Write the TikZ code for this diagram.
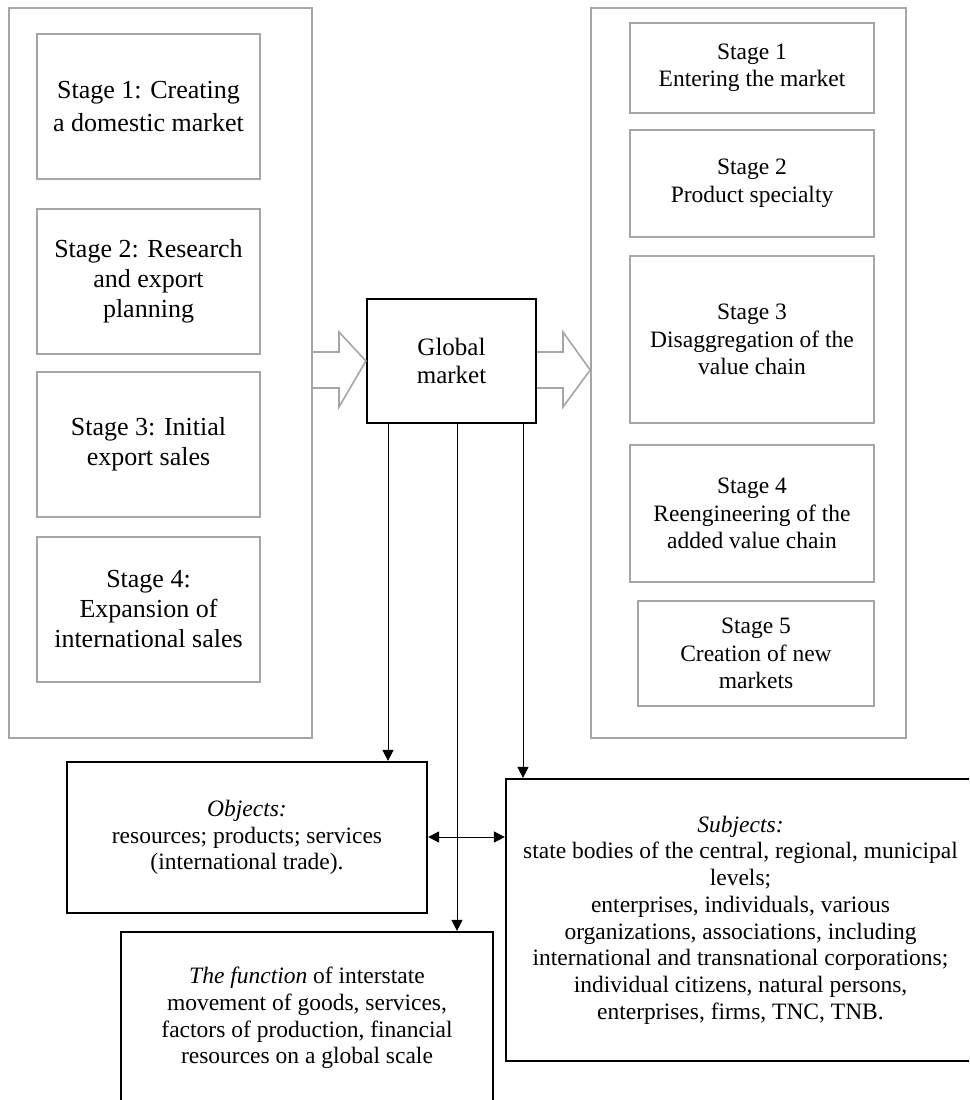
\documentclass[tikz,border=0pt]{standalone}
\usepackage{fontspec}
\setmainfont{Liberation Serif}
\usetikzlibrary{arrows.meta}
\definecolor{boxgray}{RGB}{166,166,166}
\tikzset{
  outerbox/.style={draw=boxgray, line width=1.6pt, inner sep=0pt},
  lstage/.style={draw=boxgray, line width=1.6pt, align=center, inner sep=0pt,
     minimum width=223pt, minimum height=145pt, font=\fontsize{26}{30}\selectfont},
  rstage/.style={draw=boxgray, line width=1.6pt, align=center, inner sep=0pt,
     minimum width=244pt, font=\fontsize{23.5}{27.5}\selectfont},
  blackbox/.style={draw=black, line width=2.2pt, align=center, inner sep=0pt,
     font=\fontsize{23.5}{26.7}\selectfont},
  hollow/.style={draw=boxgray, line width=1.6pt, line join=miter},
  conn/.style={line width=0.9pt, -{Triangle[length=11pt,width=11pt]}},
  dconn/.style={line width=0.9pt, {Triangle[length=11pt,width=11pt]}-{Triangle[length=11pt,width=11pt]}}
}
\begin{document}
\begin{tikzpicture}[x=1pt,y=-1pt]
\useasboundingbox (0,0) rectangle (969,1100);
\clip (0,0) rectangle (969,1100);
\fill[white] (0,0) rectangle (969,1100);

% left column
\node[outerbox, minimum width=303pt, minimum height=730pt] (louter) at (160.5,373) {};
\node[lstage, font=\fontsize{26}{33}\selectfont] (l1) at (148.5,106.5) {Stage 1: Creating\\a domestic market};
\node[lstage] (l2) at (148.5,281.5) {Stage 2: Research\\and export\\planning};
\node[lstage] (l3) at (148.5,444.5) {Stage 3: Initial\\export sales};
\node[lstage] (l4) at (148.5,609.5) {Stage 4:\\Expansion of\\international sales};

% right column
\node[outerbox, minimum width=315pt, minimum height=730pt] (router) at (748.5,373) {};
\node[rstage, minimum height=90pt] (r1) at (752,68) {Stage 1\\Entering the market};
\node[rstage, minimum height=107pt] (r2) at (752,183.5) {Stage 2\\Product specialty};
\node[rstage, minimum height=167pt] (r3) at (752,339.5) {Stage 3\\Disaggregation of the\\value chain};
\node[rstage, minimum height=137pt] (r4) at (752,513.5) {Stage 4\\Reengineering of the\\added value chain};
\node[rstage, minimum width=236pt, minimum height=105pt] (r5) at (756,653.5) {Stage 5\\Creation of new\\markets};

% global market
\node[blackbox, minimum width=169pt, minimum height=124pt, font=\fontsize{25}{28.5}\selectfont] (gm) at (451.5,361) {Global\\market};

% hollow arrows
\draw[hollow] (louter.east |- 0,352) -- (339,352) -- (339,332) -- (gm.west) -- (339,407) -- (339,388) -- (louter.east |- 0,388);
\draw[hollow] (gm.east |- 0,352) -- (563,352) -- (563,332) -- (router.west |- 0,370) -- (563,407) -- (563,388) -- (gm.east |- 0,388);

% bottom boxes
\node[blackbox, minimum width=360pt, minimum height=151pt] (obj) at (247,837.5)
  {\textit{Objects:}\\resources; products; services\\(international trade).};
\node[blackbox, minimum width=469pt, minimum height=282pt] (subj) at (740.5,920)
  {\textit{Subjects:}\\state bodies of the central, regional, municipal\\levels;\\enterprises, individuals, various\\organizations, associations, including\\international and transnational corporations;\\individual citizens, natural persons,\\enterprises, firms, TNC, TNB.};
\node[blackbox, minimum width=372pt, minimum height=172pt] (func) at (307,1018)
  {\textit{The function} of interstate\\movement of goods, services,\\factors of production, financial\\resources on a global scale};

% connectors
\coordinate (x1) at (388,0);
\coordinate (x2) at (457,0);
\coordinate (x3) at (523,0);
\coordinate (y1) at (0,837);
\draw[conn] (gm.south -| x1) -- (obj.north -| x1);
\draw[conn] (gm.south -| x2) -- (func.north -| x2);
\draw[conn] (gm.south -| x3) -- (subj.north -| x3);
\draw[dconn] (obj.east |- y1) -- (subj.west |- y1);
\end{tikzpicture}
\end{document}
